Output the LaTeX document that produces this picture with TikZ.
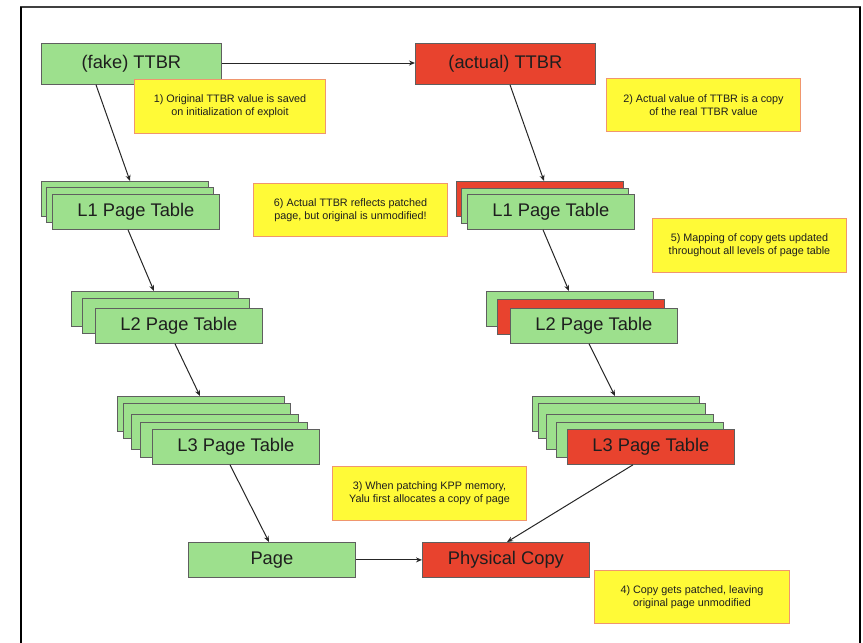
\documentclass[tikz,border=0pt]{standalone}
\usepackage{fontspec}
\setmainfont{Liberation Sans}
\usetikzlibrary{arrows.meta}
\definecolor{pgreen}{RGB}{157,224,141}
\definecolor{pred}{RGB}{232,67,46}
\definecolor{nyellow}{RGB}{255,250,55}
\definecolor{noteline}{RGB}{240,150,110}
\definecolor{boxline}{RGB}{95,95,95}
\definecolor{txt}{RGB}{30,30,30}
\tikzset{
  box/.style={draw=boxline, line width=0.8pt, minimum width=167pt, minimum height=35pt,
    inner sep=0pt, anchor=north west, text=txt, font=\fontsize{18.3}{20}\selectfont},
  gbox/.style={box, fill=pgreen},
  rbox/.style={box, fill=pred},
  note/.style={draw=noteline, fill=nyellow, line width=1pt, anchor=north west, align=center,
    inner sep=0pt, minimum width=194pt, minimum height=53pt, text=txt,
    font=\fontsize{10.8}{13.3}\selectfont},
  link/.style={draw=black!85, line width=1pt, -{Stealth[length=6pt,width=5pt]}},
}
\begin{document}
\begin{tikzpicture}[x=1pt,y=-1pt]
\useasboundingbox (0,0) rectangle (863,643);
% outer frame, open at the bottom
\draw[black!75, line width=1.5pt] (20,7) -- (861,7);
\draw[black, line width=2.5pt] (21,6.5) -- (21,643);
\draw[black, line width=2pt] (860,6.5) -- (860,643);

% register boxes
\node[gbox, minimum width=180pt, minimum height=41pt] (fake) at (41,43) {(fake) TTBR};
\node[rbox, minimum width=180pt, minimum height=41pt] (actual) at (415,43) {(actual) TTBR};

% left walk: original tables
\node[gbox] (l1a) at (41,181) {};
\node[gbox] (l1b) at (46,187) {};
\node[gbox] (l1c) at (52,194) {L1 Page Table};
\node[gbox] (l2a) at (71,291) {};
\node[gbox] (l2b) at (82,298) {};
\node[gbox] (l2c) at (95,308) {L2 Page Table};
\node[gbox] (l3a) at (117,396) {};
\node[gbox] (l3b) at (123,403) {};
\node[gbox] (l3c) at (131,414) {};
\node[gbox] (l3d) at (140,422) {};
\node[gbox] (l3e) at (152,429) {L3 Page Table};
\node[gbox] (page) at (188,542) {Page};

% right walk: copied tables
\node[rbox] (r1a) at (456,181) {};
\node[gbox] (r1b) at (461,188) {};
\node[gbox] (r1c) at (467,194) {L1 Page Table};
\node[gbox] (r2a) at (486,291) {};
\node[rbox] (r2b) at (497,299) {};
\node[gbox] (r2c) at (510,308) {L2 Page Table};
\node[gbox] (r3a) at (532,396) {};
\node[gbox] (r3b) at (538,403) {};
\node[gbox] (r3c) at (546,414) {};
\node[gbox] (r3d) at (556,422) {};
\node[rbox] (r3e) at (567,429) {L3 Page Table};
\node[rbox] (copy) at (422,542) {Physical Copy};

% connectors
\draw[link] (fake.east |- 0,63) -- (actual.west |- 0,63);
\draw[link] ([xshift=55pt]fake.south west) -- ([xshift=89pt]l1a.north west);
\draw[link] ([xshift=95pt]actual.south west) -- ([xshift=88pt]r1a.north west);
\draw[link] ([xshift=76pt]l1c.south west) -- ([xshift=83pt]l2a.north west);
\draw[link] ([xshift=76pt]r1c.south west) -- ([xshift=83pt]r2a.north west);
\draw[link] ([xshift=80pt]l2c.south west) -- ([xshift=83pt]l3a.north west);
\draw[link] ([xshift=79pt]r2c.south west) -- ([xshift=83pt]r3a.north west);
\draw[link] ([xshift=78pt]l3e.south west) -- ([xshift=81pt]page.north west);
\draw[link] ([xshift=66pt]r3e.south west) -- ([xshift=85pt]copy.north west);
\draw[link] (page.east) -- (copy.west);

% notes
\node[note, minimum width=191pt, minimum height=54pt] (n1) at (134,79)
  {1) Original TTBR value is saved\\on initialization of exploit};
\node[note, minimum height=53pt] (n2) at (606,78)
  {2) Actual value of TTBR is a copy\\of the real TTBR value};
\node[note, minimum height=54pt] (n3) at (332,466)
  {3) When patching KPP memory,\\Yalu first allocates a copy of page};
\node[note, minimum width=195pt, minimum height=53pt] (n4) at (594,570)
  {4) Copy gets patched, leaving\\original page unmodified};
\node[note, minimum height=54pt] (n5) at (652,218)
  {5) Mapping of copy gets updated\\throughout all levels of page table};
\node[note, minimum height=53pt] (n6) at (253,183)
  {6) Actual TTBR reflects patched\\page, but original is unmodified!};
\end{tikzpicture}
\end{document}
